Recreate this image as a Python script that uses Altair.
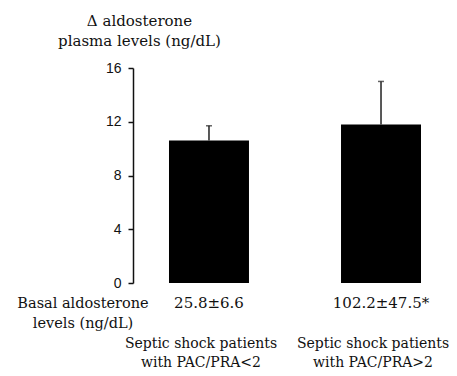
import altair as alt
import pandas as pd

categories = ["Septic shock patients|with PAC/PRA<2", "Septic shock patients|with PAC/PRA>2"]
means = [10.6, 11.8]
errors = [1.1, 3.2]
basal = ["25.8±6.6", "102.2±47.5*"]
y_ticks = [0, 4, 8, 12, 16]

df = pd.DataFrame({
    "cat": categories,
    "mean": means,
    "upper": [m + e for m, e in zip(means, errors)],
    "basal": basal,
})

SERIF = "DejaVu Serif"
SANS = "Liberation Sans"
FS = 15

xscale = alt.Scale(paddingInner=0.535, paddingOuter=0.186, align=0.5625)
x = alt.X("cat:N", sort=categories, scale=xscale,
          axis=alt.Axis(title=None, domain=False, ticks=False, labelAngle=0,
                        labelExpr="split(datum.value, '|')",
                        labelFont=SERIF, labelFontSize=14, labelColor="#111",
                        labelLineHeight=19, labelPadding=53, labelOffset=-8,
                        labelBaseline="top"))

yscale = alt.Scale(domain=[0, 16])
yaxis = alt.Axis(values=y_ticks, title=["Δ aldosterone", "plasma levels (ng/dL)"],
                 titleAngle=0, titleAlign="center", titleBaseline="alphabetic",
                 titleX=6, titleY=-43, titleFont=SERIF, titleFontSize=FS,
                 titleFontWeight="normal", titleColor="#111", titleLineHeight=20,
                 labelFont=SANS, labelFontSize=14, labelColor="#111", labelPadding=7,
                 tickSize=5, tickColor="#111", tickWidth=1.5,
                 domainColor="#111", domainWidth=1.5, grid=False)

base = alt.Chart(df)

bars = base.mark_bar(color="black").encode(
    x=x, y=alt.Y("mean:Q", scale=yscale, axis=yaxis))

err = base.mark_rule(color="#222", strokeWidth=1.5).encode(
    x=alt.X("cat:N", sort=categories), y="mean:Q", y2="upper:Q")

cap = base.mark_tick(color="#222", thickness=1.5, size=6).encode(
    x=alt.X("cat:N", sort=categories), y="upper:Q")

basal_txt = base.mark_text(font=SERIF, fontSize=FS, color="#111",
                           baseline="alphabetic", align="center").encode(
    x=alt.X("cat:N", sort=categories), y=alt.value(240), text="basal:N")

left_txt = alt.Chart(pd.DataFrame({"t": ["Basal aldosterone|levels (ng/dL)"]})).mark_text(
    font=SERIF, fontSize=14.5, color="#111", baseline="alphabetic", align="center",
    lineBreak="|", lineHeight=20).encode(
    x=alt.value(-50), y=alt.value(240), text="t:N")

chart = alt.layer(bars, err, cap, basal_txt, left_txt).properties(
    width=316, height=215,
    autosize=alt.AutoSizeParams(type="none"),
    padding={"left": 125, "top": 60, "right": 0, "bottom": 85},
).configure_view(stroke=None)

chart.save("out.html", embed_options={"renderer": "svg", "actions": False})
